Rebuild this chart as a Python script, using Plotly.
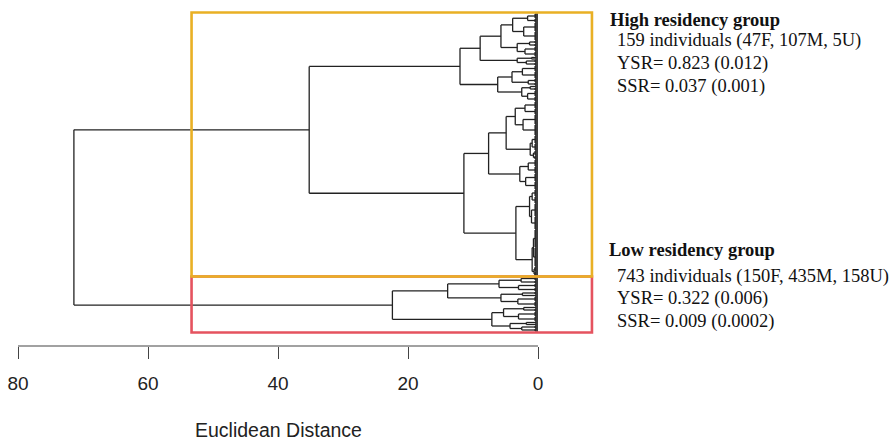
import plotly.graph_objects as go

# ---------------- data ----------------
# terminal clusters (top to bottom): leaves in upper / lower sub-group, merge height
term_names = ["t1", "t2", "t3", "t4", "t5", "t6", "t7", "t8", "t9", "t10",
              "t11", "t12", "t13", "t14", "t15", "t16", "t17", "t18", "t19", "t20",
              "t21", "t22", "t23", "t24", "t25", "t26", "t27", "t28"]
term_upper = [5, 9, 3, 5, 2, 3, 6, 4, 2, 6,
              7, 10, 8, 5, 7, 8, 7, 13, 18, 5,
              4, 4, 3, 5, 2, 5, 2, 3]
term_lower = [4, 9, 3, 5, 1, 3, 7, 3, 3, 5,
              6, 11, 7, 4, 7, 8, 7, 13, 19, 5,
              3, 4, 2, 5, 3, 5, 2, 3]
term_height = [1.6, 2.2, 1.3, 2.0, 1.0, 1.8, 2.4, 1.5, 1.2, 1.6,
               2.0, 2.3, 0.9, 0.7, 1.5, 1.9, 0.9, 1.0, 0.7, 0.6,
               2.6, 3.0, 2.4, 3.1, 2.2, 3.0, 1.8, 2.5]
leaf_height = 0.45

# internal merges: node, upper child, lower child, height (Euclidean distance)
merge_names = ["A111", "A112", "A11", "A12", "A1", "A21", "A22", "A2", "A",
               "B111", "B112", "B11", "B12", "B1", "B21", "B22", "B2", "B", "High",
               "L11", "L12", "L1", "L21", "L22", "L2", "Low", "Root"]
merge_upper = ["t1", "t3", "A111", "t5", "A11", "t7", "t9", "A21", "A1",
               "t11", "t13", "B111", "t15", "B11", "t17", "t19", "B21", "B1", "A",
               "t21", "t23", "L11", "t25", "t27", "L21", "L1", "High"]
merge_lower = ["t2", "t4", "A112", "t6", "A12", "t8", "t10", "A22", "A2",
               "t12", "t14", "B112", "t16", "B12", "t18", "t20", "B22", "B2", "B",
               "t22", "t24", "L12", "t26", "t28", "L22", "L2", "Low"]
merge_height = [3.9, 3.2, 5.7, 3.2, 8.9, 4.0, 2.5, 6.2, 12.0,
                3.5, 1.2, 4.9, 2.8, 7.6, 1.3, 0.9, 3.4, 11.4, 35.2,
                6.0, 5.7, 13.9, 5.3, 4.3, 7.1, 22.4, 71.4]

group_nodes = ["High", "Low"]          # the two clusters boxed (k = 2), top to bottom
rect_outer = -8.3                      # far edge of the cluster boxes

x_ticks = [80, 60, 40, 20, 0]
x_title = "Euclidean Distance"

high_lines = ["<b>High residency group</b>", "159 individuals (47F, 107M, 5U)",
              "YSR= 0.823 (0.012)", "SSR= 0.037 (0.001)"]
low_lines = ["<b>Low residency group</b>", "743 individuals (150F, 435M, 158U)",
             "YSR= 0.322 (0.006)", "SSR= 0.009 (0.0002)"]

# ---------------- styles / layout ----------------
LINE_COL = "#222222"
GROUP_COL = {"High": "#E9B024", "Low": "#E5535F"}
W, H = 892, 442
PL, PR, PT, PB = 18, 600, 0, 346       # plot area in pixels
PX_PER_UNIT = 6.5

def xp(p):
    return (p - PL) / (PR - PL)

def yp(p):
    return (PB - p) / (PB - PT)

# ---------------- build dendrogram ----------------
terms = {n: (u, l, h) for n, u, l, h in zip(term_names, term_upper, term_lower, term_height)}
merges = {n: (u, l, h) for n, u, l, h in zip(merge_names, merge_upper, merge_lower, merge_height)}
xs, ys = [], []
span = {}
counter = [0]

def seg(x0, y0, x1, y1):
    xs.extend([x0, x1, None])
    ys.extend([y0, y1, None])

def draw(name):
    if name in terms:
        u, l, h = terms[name]
        first = counter[0] + 1
        centers = []
        for n in (u, l):
            pos = [counter[0] + k + 1 for k in range(n)]
            counter[0] += n
            if n == 1:
                centers.append((pos[0], 0.0))
            else:
                for p in pos:
                    seg(leaf_height, p, 0, p)
                seg(leaf_height, pos[0], leaf_height, pos[-1])
                centers.append(((pos[0] + pos[-1]) / 2, leaf_height))
        for c, hc in centers:
            seg(h, c, hc, c)
        seg(h, centers[0][0], h, centers[1][0])
        span[name] = (first, counter[0])
        return (centers[0][0] + centers[1][0]) / 2, h
    u, l, h = merges[name]
    cu, hu = draw(u)
    cl, hl = draw(l)
    seg(h, cu, hu, cu)
    seg(h, cl, hl, cl)
    seg(h, cu, h, cl)
    span[name] = (span[u][0], span[l][1])
    return (cu + cl) / 2, h

root = merge_names[merge_height.index(max(merge_height))]
draw(root)
n_leaves = counter[0]

fig = go.Figure()
fig.add_trace(go.Scatter(x=xs, y=ys, mode="lines",
                         line=dict(color=LINE_COL, width=1.3),
                         hoverinfo="skip", showlegend=False))

# cluster rectangles (rect.hclust style: cut between the top two merge heights)
hs = sorted(merge_height, reverse=True)
cut = (hs[0] + hs[1]) / 2
edges = [span[group_nodes[0]][0] - 1.5]
for g0, g1 in zip(group_nodes[:-1], group_nodes[1:]):
    edges.append((span[g0][1] + span[g1][0]) / 2)
edges.append(span[group_nodes[-1]][1] + 1.5)
order = list(range(len(group_nodes)))[::-1]   # draw lower boxes first
for i in order:
    g = group_nodes[i]
    fig.add_shape(type="rect", xref="x", yref="y", x0=cut, x1=rect_outer,
                  y0=edges[i], y1=edges[i + 1], line=dict(color=GROUP_COL[g], width=2.6),
                  fillcolor="rgba(0,0,0,0)")

# axis line spanning only the tick range
fig.add_shape(type="line", xref="x", yref="paper", x0=max(x_ticks), x1=min(x_ticks),
              y0=0, y1=0, line=dict(color="#444", width=1.2))

x_left = 80
x_right = x_left - (PR - PL) / PX_PER_UNIT
y_top = 1 - (14 - PT)
y_bottom = y_top + (PB - PT)

fig.update_xaxes(range=[x_left, x_right], tickvals=x_ticks,
                 ticktext=[str(v) for v in x_ticks],
                 ticks="outside", ticklen=12, tickwidth=1.2, tickcolor="#444",
                 showline=False, showgrid=False, zeroline=False,
                 tickfont=dict(family="Liberation Sans, Arial", size=19, color="#222"),
                 ticklabelstandoff=8)
fig.update_yaxes(range=[y_bottom, y_top], visible=False, showgrid=False, zeroline=False)

ann = []
ann.append(dict(text=x_title, xref="x", yref="paper", x=(max(x_ticks) + min(x_ticks)) / 2,
                y=yp(430), xanchor="center", yanchor="middle", showarrow=False,
                font=dict(family="Liberation Sans, Arial", size=19.5, color="#222")))
serif = "Liberation Serif, Times New Roman, serif"
for i, (txt, yc) in enumerate(zip(high_lines, [20.4, 40.8, 63.7, 86.7])):
    ann.append(dict(text=txt, xref="paper", yref="paper", x=xp(608 if i == 0 else 615),
                    y=yp(yc), xanchor="left", yanchor="middle", showarrow=False,
                    font=dict(family=serif, size=18.5, color="#111")))
for i, (txt, yc) in enumerate(zip(low_lines, [249.7, 276.0, 298.0, 321.4])):
    ann.append(dict(text=txt, xref="paper", yref="paper", x=xp(607 if i == 0 else 615),
                    y=yp(yc), xanchor="left", yanchor="middle", showarrow=False,
                    font=dict(family=serif, size=18.5, color="#111")))

fig.update_layout(width=W, height=H, margin=dict(l=PL, r=W - PR, t=PT, b=H - PB),
                  plot_bgcolor="white", paper_bgcolor="white", annotations=ann,
                  showlegend=False)
fig.write_html("out.html")
